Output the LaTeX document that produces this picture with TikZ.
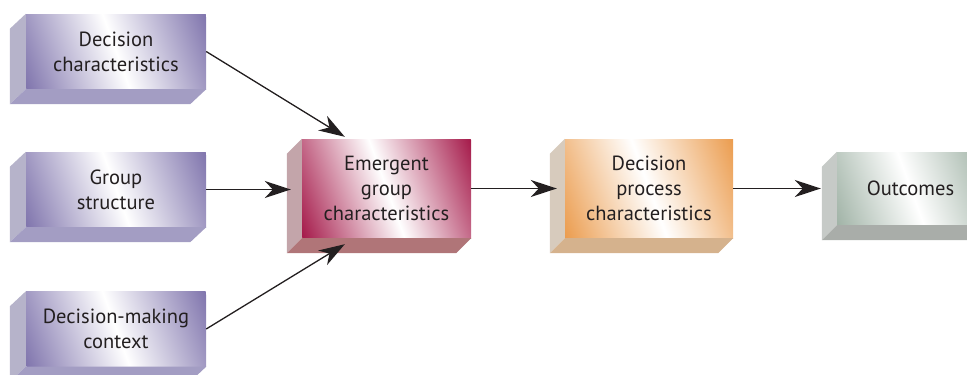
\documentclass[tikz,border=0pt]{standalone}
\usepackage{fontspec}
\setmainfont{PT Sans}
\usetikzlibrary{arrows.meta,calc}
\definecolor{txt}{HTML}{231F20}
\definecolor{purD}{HTML}{8075AD}
\definecolor{purS}{HTML}{B6B3CA}
\definecolor{purB}{HTML}{A39DC3}
\definecolor{redD}{HTML}{A51A4A}
\definecolor{redS}{HTML}{C3A5AA}
\definecolor{redB}{HTML}{B07578}
\definecolor{orgD}{HTML}{EB9C4E}
\definecolor{orgS}{HTML}{D7CBBD}
\definecolor{orgB}{HTML}{D5B28D}
\definecolor{grnD}{HTML}{9EB1A4}
\definecolor{grnS}{HTML}{C6CAC7}
\definecolor{grnB}{HTML}{A9ADA9}
\newcommand\boxsides[4]{%
  \fill[#2] (#1.north west) -- ++(#4,15) -- ($(#1.south west)+(#4,15)$) -- (#1.south west) -- cycle;
  \fill[#3] (#1.south west) -- ++(#4,15) -- ($(#1.south east)+(#4,15)$) -- (#1.south east) -- cycle;}
\begin{document}
\begin{tikzpicture}[x=1pt,y=-1pt,
  face/.style={inner sep=0pt, align=center, text=txt,
    font=\fontsize{20.5}{25}\selectfont},
  gshade/.style 2 args={path picture={%
    \shade[transform canvas={rotate around={20:(path picture bounding box.center)}},
      left color=#1, right color=#1, middle color=white]
      ($(path picture bounding box.center)+(-#2,-140)$) rectangle
      ($(path picture bounding box.center)+(#2,140)$);}},
  purfront/.style={face, gshade={purD}{97}, minimum width=180pt, minimum height=75pt},
  redfront/.style={face, gshade={redD}{96}, minimum width=169pt, minimum height=99pt},
  orgfront/.style={face, gshade={orgD}{96}, minimum width=168pt, minimum height=99pt},
  grnfront/.style={face, gshade={grnD}{84}, minimum width=147pt, minimum height=73pt},
  arr/.style={draw=txt, line width=1.3pt,
    -{Stealth[length=26pt,width=17pt,inset=8pt]}}]
\useasboundingbox (0,0) rectangle (967,375);

\node[purfront] (dc)  at (116,51.5)  {Decision\\characteristics};
\boxsides{dc}{purS}{purB}{-16}
\node[purfront] (gs)  at (116,189.5) {Group\\structure};
\boxsides{gs}{purS}{purB}{-16}
\node[purfront] (dmc) at (116,329)   {Decision-making\\context};
\boxsides{dmc}{purS}{purB}{-16}

\node[redfront] (egc) at (386.5,188.5) {Emergent\\group\\characteristics};
\boxsides{egc}{redS}{redB}{-15}
\node[orgfront] (dpc) at (649,188.5) {Decision\\process\\characteristics};
\boxsides{dpc}{orgS}{orgB}{-15}
\node[grnfront] (out) at (910.5,188.5) {Outcomes};
\boxsides{out}{grnS}{grnB}{-15}

\draw[arr] (dc.east) -- ($(egc.north west)+(43,-2)$);
\draw[arr] (gs.east) -- ($(egc.west)+(-11,1)$);
\draw[arr] (dmc.east) -- ($(egc.south west)+(43,6)$);
\draw[arr] (egc.east) -- ($(dpc.west)+(-8,0)$);
\draw[arr] (dpc.east) -- ($(out.west)+(-16,0)$);
\end{tikzpicture}
\end{document}
